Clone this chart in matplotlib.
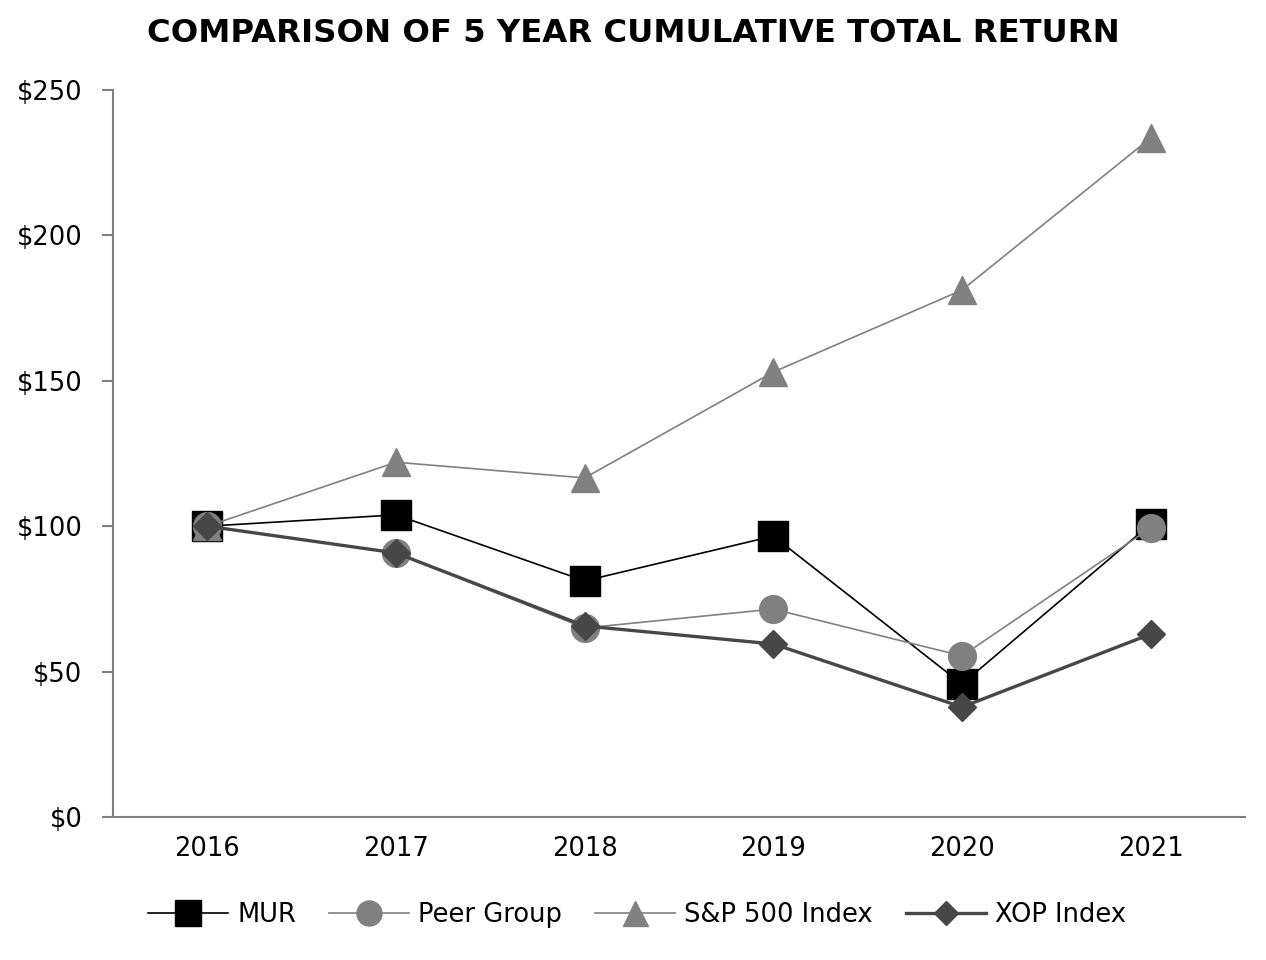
import matplotlib
matplotlib.use('Agg')
import matplotlib.pyplot as plt

years = ['2016', '2017', '2018', '2019', '2020', '2021']
mur = [100, 103.9, 81.2, 96.6, 45.7, 100.8]
peer = [100, 90.8, 65.0, 71.5, 55.4, 99.4]
sp500 = [100, 122.0, 116.6, 153.0, 181.2, 233.5]
xop = [100, 90.8, 65.7, 59.5, 37.8, 62.9]
yticks = [0, 50, 100, 150, 200, 250]

fig = plt.figure(figsize=(12.66, 9.6), dpi=100)
ax = fig.add_axes([113 / 1266, 1 - 817 / 960, 1132 / 1266, 727 / 960])

x = range(len(years))
ax.plot(x, mur, color='black', lw=1.2, marker='s', ms=21, label='MUR', zorder=3)
ax.plot(x, peer, color='#808080', lw=1.2, marker='o', ms=20, label='Peer Group', zorder=4)
ax.plot(x, sp500, color='#808080', lw=1.2, marker='^', ms=20, label='S&P 500 Index', zorder=5)
ax.plot(x, xop, color='#474747', lw=2.4, marker='D', ms=14, label='XOP Index', zorder=6)

ax.set_xlim(-0.5, 5.5)
ax.set_ylim(0, 250)
ax.set_xticks(list(x))
ax.set_xticklabels(years)
ax.set_yticks(yticks)
ax.set_yticklabels(['${}'.format(v) for v in yticks])
ax.tick_params(axis='both', labelsize=18.5, colors='#808080', labelcolor='black')
ax.tick_params(axis='x', length=0, pad=14)
ax.tick_params(axis='y', length=8, width=1.5, pad=14)
for s in ['top', 'right']:
    ax.spines[s].set_visible(False)
for s in ['left', 'bottom']:
    ax.spines[s].set_color('#808080')
    ax.spines[s].set_linewidth(1.5)

fig.suptitle('COMPARISON OF 5 YEAR CUMULATIVE TOTAL RETURN', fontsize=23.2,
             fontweight='bold', x=633 / 1266, y=1 - 33 / 960, va='center')
fig.legend(loc='center', bbox_to_anchor=(637 / 1266, 1 - 915 / 960), ncol=4,
           frameon=False, fontsize=18.5, handlelength=3.1, columnspacing=1.3,
           handletextpad=0.35, markerscale=0.9)

plt.savefig('out.png')
